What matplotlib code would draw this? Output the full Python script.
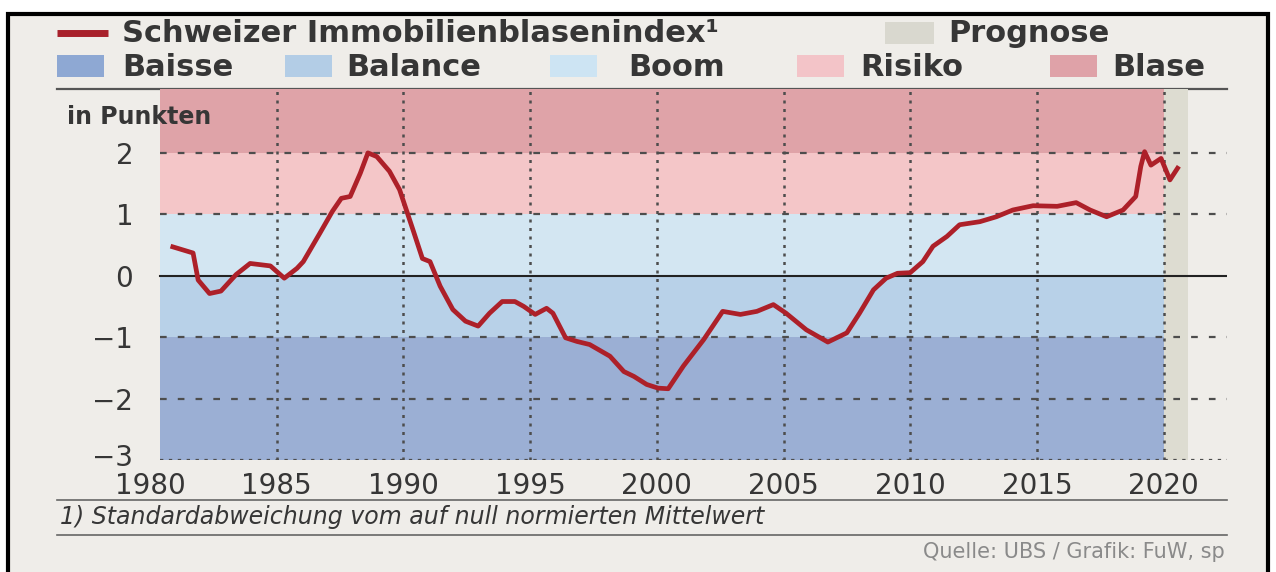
import matplotlib
matplotlib.use("Agg")
import matplotlib.pyplot as plt
from matplotlib.patches import Rectangle
from matplotlib.transforms import ScaledTranslation

# Schweizer Immobilienblasenindex (UBS)
years = [1980.9, 1981.7, 1981.9, 1982.35, 1982.8, 1983.4, 1983.95, 1984.35, 1984.75,
         1985.3, 1985.8, 1986.05, 1986.7, 1987.2, 1987.55, 1987.9, 1988.3, 1988.6,
         1988.95, 1989.45, 1989.85, 1990.4, 1990.75, 1991.05, 1991.45, 1991.95,
         1992.45, 1992.95, 1993.4, 1993.9, 1994.4, 1994.75, 1995.2, 1995.65, 1995.9,
         1996.4, 1996.85, 1997.35, 1998.15, 1998.7, 1999.1, 1999.6, 2000.05, 2000.45,
         2001.05, 2001.85, 2002.6, 2003.3, 2003.95, 2004.6, 2005.1, 2005.9, 2006.75,
         2007.5, 2008.0, 2008.55, 2009.05, 2009.5, 2010.0, 2010.5, 2010.9, 2011.45,
         2011.95, 2012.75, 2013.4, 2014.05, 2014.85, 2015.8, 2016.55, 2017.1, 2017.75,
         2018.4, 2018.9, 2019.1, 2019.25, 2019.5, 2019.9, 2020.25, 2020.55]
index = [0.47, 0.37, -0.07, -0.29, -0.25, 0.02, 0.20, 0.18, 0.16,
         -0.04, 0.12, 0.23, 0.69, 1.05, 1.26, 1.29, 1.67, 2.00,
         1.94, 1.70, 1.40, 0.72, 0.28, 0.23, -0.17, -0.55,
         -0.74, -0.82, -0.61, -0.42, -0.42, -0.50, -0.63, -0.53, -0.61,
         -1.01, -1.07, -1.12, -1.31, -1.56, -1.64, -1.77, -1.83, -1.84,
         -1.47, -1.04, -0.58, -0.63, -0.58, -0.47, -0.61, -0.88, -1.08,
         -0.93, -0.61, -0.23, -0.04, 0.04, 0.05, 0.23, 0.48, 0.64,
         0.83, 0.88, 0.96, 1.07, 1.14, 1.13, 1.19, 1.07, 0.96,
         1.07, 1.29, 1.78, 2.02, 1.80, 1.91, 1.56, 1.75]

zone_names = ["Baisse", "Balance", "Boom", "Risiko", "Blase"]
zone_lower = [-3, -1, 0, 1, 2]
zone_upper = [-1, 0, 1, 2, 3.04]
zone_colors = ["#9bafd4", "#b8d1e8", "#d3e6f2", "#f4c6c8", "#dfa3a8"]
legend_colors = ["#8ea8d3", "#b3cde6", "#cde4f3", "#f3c4c8", "#dfa2a8"]

band_start, band_end = 1980.4, 2020.0
forecast_start, forecast_end = 2020.0, 2020.95

x_ticks = [1980, 1985, 1990, 1995, 2000, 2005, 2010, 2015, 2020]
y_ticks = [-3, -2, -1, 0, 1, 2]

W, H = 1276, 572
fig = plt.figure(figsize=(W / 100, H / 100), dpi=100, facecolor="white")

# decoration layer in pixel coordinates
bg = fig.add_axes([0, 0, 1, 1], zorder=0)
bg.set_xlim(0, W)
bg.set_ylim(H, 0)
bg.axis("off")
bg.add_patch(Rectangle((8, 14), 1260, 570, facecolor="#efede9",
                       edgecolor="black", linewidth=3))

txt = "#363636"
# legend row 1
bg.plot([57, 108], [33, 33], color="#a8212b", lw=5, solid_capstyle="butt")
bg.text(122, 33, "Schweizer Immobilienblasenindex\u00b9", fontsize=22,
        fontweight="bold", color=txt, va="center", ha="left")
bg.add_patch(Rectangle((885, 22), 49, 22, facecolor="#d9d8cf", edgecolor="none"))
bg.text(948, 33, "Prognose", fontsize=22, fontweight="bold", color=txt,
        va="center", ha="left")
# legend row 2
patch_x = [57, 285, 550, 797, 1050]
label_x = [122, 346, 628, 860, 1112]
for name, col, px, lx in zip(zone_names, legend_colors, patch_x, label_x):
    bg.add_patch(Rectangle((px, 55), 47, 22, facecolor=col, edgecolor="none"))
    bg.text(lx, 67, name, fontsize=22, fontweight="bold", color=txt,
            va="center", ha="left")

bg.plot([57, 1227], [89, 89], color="#555555", lw=1.6)
bg.plot([57, 1227], [500, 500], color="#666666", lw=1.2)
bg.plot([57, 1227], [535, 535], color="#666666", lw=1.2)
bg.text(60, 517, "1) Standardabweichung vom auf null normierten Mittelwert",
        fontsize=17, style="italic", color=txt, va="center", ha="left")
bg.text(1225, 552, "Quelle: UBS / Grafik: FuW, sp", fontsize=15,
        color="#8a8a8a", va="center", ha="right")

# main chart
left, right, top, bottom = 150, 1227, 89, 460
ax = fig.add_axes([left / W, 1 - bottom / H, (right - left) / W, (bottom - top) / H],
                  zorder=1)
ax.patch.set_alpha(0)
x_max = 1980 + (right - left) / 25.34
ax.set_xlim(1980, x_max)
ax.set_ylim(-3, 3.04)

for lo, hi, col in zip(zone_lower, zone_upper, zone_colors):
    ax.fill_between([band_start, band_end], lo, hi, color=col, lw=0, zorder=0)
ax.fill_between([forecast_start, forecast_end], -3, 3.04, color="#dddcd1", lw=0, zorder=0)

grid_col = "#4d4d4d"
for yv in [2, 1, -1, -2]:
    ax.plot([band_start, x_max], [yv, yv], color=grid_col, lw=1.6,
            linestyle=(0, (3, 5)), zorder=1)
ax.plot([band_start, x_max], [-3, -3], color=grid_col, lw=1.6,
        linestyle=(0, (1.5, 2.5)), zorder=1)
for xv in x_ticks[1:]:
    ax.plot([xv, xv], [-3, 3.04], color=grid_col, lw=1.8,
            linestyle=(0, (1.2, 2.2)), zorder=1)
ax.plot([band_start, x_max], [0, 0], color="#222222", lw=1.5, zorder=2)

ax.plot(years, index, color="#ad2029", lw=3.4, zorder=3, solid_joinstyle="round")

ax.set_xticks(x_ticks)
ax.set_xticklabels([str(v) for v in x_ticks])
ax.set_yticks(y_ticks)
ax.set_yticklabels(["\u2212" + str(-v) if v < 0 else str(v) for v in y_ticks])
ax.tick_params(length=0, labelsize=20, labelcolor=txt)
ax.tick_params(axis="x", pad=9)
ax.tick_params(axis="y", pad=12)
for s in ax.spines.values():
    s.set_visible(False)

# lift the "-3" label a little, as in the original
lowest = ax.get_yticklabels()[0]
lowest.set_transform(lowest.get_transform() + ScaledTranslation(0, 5 / 100, fig.dpi_scale_trans))

ax.text(-0.077, 0.925, "in Punkten", transform=ax.transAxes, fontsize=17,
        fontweight="bold", color=txt, va="center", ha="left")

fig.savefig("out.png", dpi=100, facecolor=fig.get_facecolor())
